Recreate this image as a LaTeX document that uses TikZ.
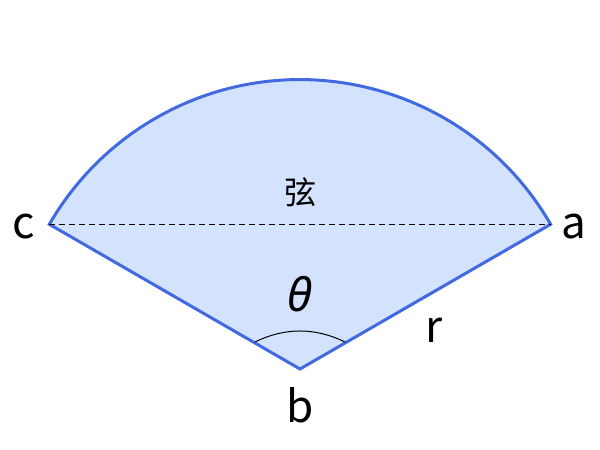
\documentclass[tikz,border=0pt]{standalone}
\usepackage{fontspec}
\setmainfont{Noto Sans CJK SC}
\newfontfamily\thetafont{Noto Sans}
\definecolor{sectfill}{HTML}{D3E3FD}
\definecolor{sectline}{HTML}{4169E1}
\begin{document}
\begin{tikzpicture}[x=1pt,y=-1pt,
  lbl/.style={inner sep=0pt,font=\fontsize{44}{48}\selectfont},
  sector/.style={draw=sectline,fill=sectfill,line width=3pt,line join=miter}]
\useasboundingbox (0,0) rectangle (600,450);
\coordinate (b) at (300,369);
\coordinate (c) at (49.4,224.3);
\coordinate (a) at (550.6,224.3);
\draw[sector] (b) -- (a) arc[start angle=-30,end angle=-150,radius=289.4] -- cycle;
\draw[dashed,line width=0.8pt,dash pattern=on 6pt off 4pt] (c) -- (a);
\coordinate (s1) at (255,342);
\coordinate (s2) at (345,342);
\draw[line width=1pt] (s1) .. controls (285,327.3) and (315,327.3) .. (s2);
\node[lbl] (lc) at (24,227) {c};
\node[lbl] (la) at (574,227) {a};
\node[lbl] (lb) at (300,405) {b};
\node[lbl] (lr) at (434,330) {r};
\node[inner sep=0pt,font=\fontsize{32}{36}\selectfont] (chord) at (300,192) {弦};
\node[inner sep=0pt,font=\thetafont\itshape\fontsize{46}{50}\selectfont] (th) at (300,294) {θ};
\end{tikzpicture}
\end{document}
